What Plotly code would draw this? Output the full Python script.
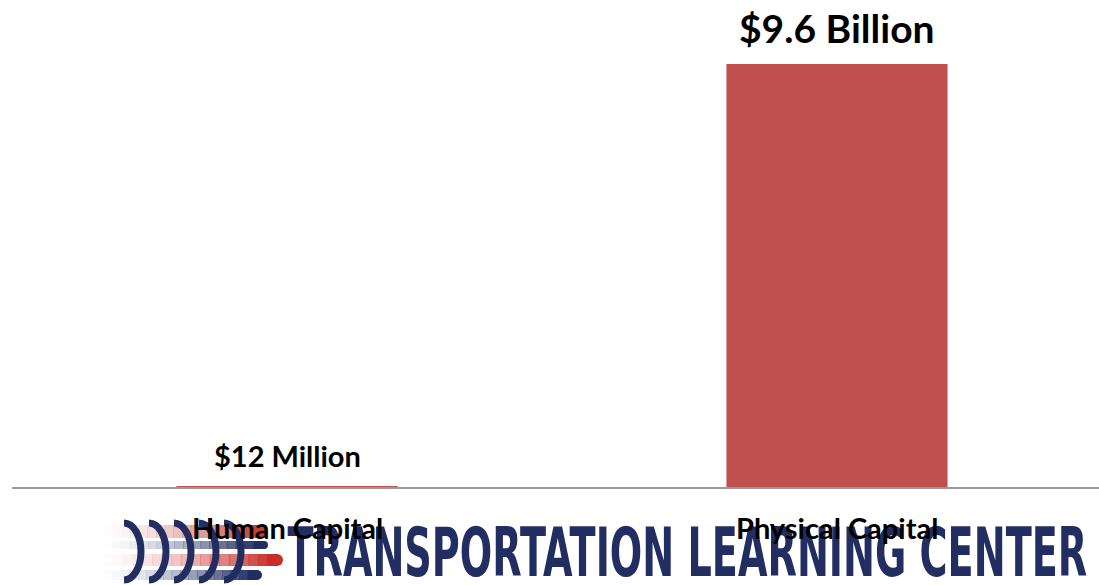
import plotly.graph_objects as go

# Investment comparison (values in millions of dollars)
categories = ["Human Capital", "Physical Capital"]
values_musd = [12, 9600]
value_labels = ["$12 Million", "$9.6 Billion"]
label_sizes = [29, 39]
label_lift = [31, 36]

W, H = 1099, 585
ML, MR, MT, MB = 12, 0, 0, 98
PW, PH = W - ML - MR, H - MT - MB

NAVY = "#222d62"
RED = "#c0504d"


def px(x):
    return (x - ML) / PW


def py(y):
    return (H - MB - y) / PH


fig = go.Figure(
    go.Bar(
        x=categories,
        y=values_musd,
        width=0.402,
        marker=dict(color=RED, line=dict(width=0)),
        hoverinfo="skip",
    )
)

annotations = []

# Logo: "TRANSPORTATION LEARNING CENTER" wordmark
annotations.append(dict(
    text="TRANSPORTATION LEARNING CENTER",
    xref="paper", yref="paper", x=px(687.5), y=py(552.5),
    xanchor="center", yanchor="middle", showarrow=False,
    font=dict(family="DejaVu Sans", size=68, color=NAVY, weight="bold"),
))

# Value labels above each bar
for cat, v, lab, sz, lift in zip(categories, values_musd, value_labels, label_sizes, label_lift):
    annotations.append(dict(
        text=f"<b>{lab}</b>", x=cat, y=v, xref="x", yref="y",
        xanchor="center", yanchor="middle", yshift=lift, showarrow=False,
        font=dict(family="Lato", size=sz, color="black"),
    ))

# Category labels under the axis line
for cat in categories:
    annotations.append(dict(
        text=f"<b>{cat}</b>", x=cat, y=0, xref="x", yref="paper",
        xanchor="center", yanchor="middle", yshift=-40, showarrow=False,
        font=dict(family="Lato", size=29, color="black"),
    ))

# Logo emblem: fading cable stripes with coil rings
shapes = []
bands = [  # (y_top, y_bottom, colour, right end)
    (525, 538, (196, 64, 52), 266),
    (541, 549, (34, 45, 98), 268),
    (554, 566, (200, 45, 40), 283),
    (570, 580, (34, 45, 98), 262),
]
x_start = 104
nseg = 18
for y0, y1, (r, g, b), x_end in bands:
    step = (x_end - 6 - x_start) / nseg
    for i in range(nseg):
        a = ((i + 1) / nseg) ** 1.6
        shapes.append(dict(
            type="rect", xref="paper", yref="paper",
            x0=px(x_start + i * step), x1=px(x_start + (i + 1) * step + 0.6),
            y0=py(y1), y1=py(y0),
            fillcolor=f"rgba({r},{g},{b},{a:.3f})", line=dict(width=0), layer="above",
        ))
    rr = (y1 - y0) / 2
    shapes.append(dict(
        type="rect", xref="paper", yref="paper",
        x0=px(x_end - 6 - 0.5), x1=px(x_end - rr),
        y0=py(y1), y1=py(y0),
        fillcolor=f"rgb({r},{g},{b})", line=dict(width=0), layer="above",
    ))
    shapes.append(dict(
        type="circle", xref="paper", yref="paper",
        x0=px(x_end - 2 * rr), x1=px(x_end),
        y0=py(y1), y1=py(y0),
        fillcolor=f"rgb({r},{g},{b})", line=dict(width=0), layer="above",
    ))

ring_centres = [124, 149, 174, 199, 224]
rx, ry, cy = 17, 28.5, 551.5
k = 0.5523
for cx in ring_centres:
    pts = [
        (cx, cy - ry),
        (cx + k * rx, cy - ry), (cx + rx, cy - k * ry), (cx + rx, cy),
        (cx + rx, cy + k * ry), (cx + k * rx, cy + ry), (cx, cy + ry),
    ]
    p = [(px(a), py(b)) for a, b in pts]
    path = (f"M {p[0][0]},{p[0][1]} C {p[1][0]},{p[1][1]} {p[2][0]},{p[2][1]} {p[3][0]},{p[3][1]} "
            f"C {p[4][0]},{p[4][1]} {p[5][0]},{p[5][1]} {p[6][0]},{p[6][1]}")
    shapes.append(dict(
        type="path", xref="paper", yref="paper", path=path,
        line=dict(color=NAVY, width=7), layer="above",
    ))

fig.update_layout(
    width=W, height=H,
    margin=dict(l=ML, r=MR, t=MT, b=MB, pad=0),
    paper_bgcolor="white", plot_bgcolor="white",
    showlegend=False,
    bargap=0.6,
    annotations=annotations,
    shapes=shapes,
    xaxis=dict(
        type="category", range=[-0.5, -0.5 + PW / 550],
        showticklabels=False, ticks="", showgrid=False, zeroline=False,
        showline=True, linecolor="#9a9a9a", linewidth=2,
        fixedrange=True,
    ),
    yaxis=dict(
        range=[0, 9600 * PH / 423], visible=False, showgrid=False,
        zeroline=False, fixedrange=True,
    ),
)

# Narrow the wordmark horizontally to its condensed width
squeeze_js = """
var gd = document.getElementById('{plot_id}');
function squeezeWordmark() {
  gd.querySelectorAll('text.annotation-text').forEach(function (t) {
    if (t.textContent.indexOf('TRANSPORTATION') === 0) {
      t.removeAttribute('transform');
      var b = t.getBBox();
      var sx = 800 / b.width;
      var cx = b.x + b.width / 2;
      t.setAttribute('transform', 'translate(' + cx + ',0) scale(' + sx + ',1) translate(' + (-cx) + ',0)');
    }
  });
}
squeezeWordmark();
gd.on('plotly_afterplot', squeezeWordmark);
"""

fig.write_html("out.html", config={"displayModeBar": False}, post_script=squeeze_js)
